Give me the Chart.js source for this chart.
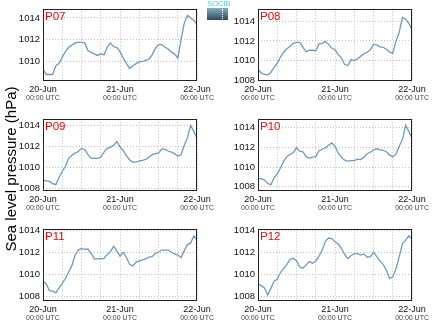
<!DOCTYPE html>
<html><head><meta charset="utf-8">
<script src="https://cdn.jsdelivr.net/npm/chart.js@4"></script>
<style>
html,body{margin:0;padding:0;background:#fff;width:435px;height:327px;overflow:hidden;position:relative;font-family:"Liberation Sans",Arial,sans-serif}
canvas{position:absolute}
#ytitle{position:absolute;left:-74px;top:161px;width:170px;height:16px;transform:rotate(-90deg);transform-origin:85px 8px;white-space:nowrap;font-size:15px;line-height:16px;text-align:center;color:#000;font-weight:normal;z-index:5}
#logo{position:absolute;left:207px;top:0;width:21px;z-index:5}
#logo .t{font-size:8px;line-height:8px;color:#5cc8e0;letter-spacing:-0.3px;text-align:center}
#logo .b{height:12px;background:linear-gradient(#7fb0c0,#2f4a5c);position:relative}
#logo .b:after{content:"";position:absolute;left:15px;top:1px;height:10px;border-left:1px dotted #fff}
</style></head>
<body>
<div id="ytitle">Sea level pressure (hPa)</div>
<div id="logo"><div class="t">SOCIB</div><div class="b"></div></div>
<script>
// ---- data ----
const hours = [0,1,2,3,4,5,6,7,8,9,10,11,12,13,14,15,16,17,18,19,20,21,22,23,24,25,26,27,28,29,30,31,32,33,34,35,36,37,38,39,40,41,42,43,44,45,46,47,48];
const dayLabels = ['20-Jun','21-Jun','22-Jun'];
const timeLabel = '00:00 UTC';
const panelNames = ['P07','P08','P09','P10','P11','P12'];
const yTicks = [1008,1010,1012,1014];
const yMin = [1008.2, 1007.93, 1007.74, 1007.57, 1007.55, 1007.55];
const yMax = [1014.85, 1015.27, 1014.63, 1014.9, 1014.15, 1014.15];

const p07 = [1009.3,1008.8,1008.8,1008.8,1009.6,1009.8,1010.4,1010.9,1011.3,1011.5,1011.7,1011.75,1011.75,1011.7,1011.0,1010.8,1010.7,1010.55,1010.7,1010.6,1011.3,1011.7,1011.35,1011.3,1010.9,1010.3,1009.8,1009.35,1009.6,1009.8,1009.95,1010.0,1010.1,1010.2,1010.6,1011.2,1011.55,1011.55,1011.3,1011.15,1010.85,1010.7,1010.3,1012.0,1013.5,1014.25,1014.0,1013.8,1013.4];
const p08 = [1009.1,1008.75,1008.6,1008.55,1008.8,1009.3,1009.75,1010.35,1010.85,1011.2,1011.45,1011.75,1011.85,1011.85,1011.35,1010.9,1011.05,1011.05,1011.0,1011.7,1011.75,1011.95,1011.65,1011.25,1011.1,1010.6,1010.25,1009.6,1009.5,1010.1,1010.0,1010.2,1010.45,1010.7,1010.85,1011.1,1011.65,1011.6,1011.4,1011.35,1011.15,1010.85,1010.75,1012.0,1012.9,1014.4,1014.2,1013.75,1013.2];
const p09 = [1008.75,1008.7,1008.65,1008.45,1008.35,1009.05,1009.6,1010.1,1010.85,1011.15,1011.35,1011.5,1011.8,1011.7,1011.2,1010.85,1010.85,1010.85,1010.95,1011.45,1011.8,1011.9,1012.1,1012.45,1011.95,1011.6,1011.1,1010.7,1010.5,1010.5,1010.6,1010.65,1010.75,1010.95,1011.2,1011.3,1011.35,1011.75,1011.7,1011.55,1011.45,1011.3,1011.05,1011.2,1012.1,1012.8,1014.0,1013.4,1012.75];
const p10 = [1008.85,1008.8,1008.7,1008.35,1008.2,1008.9,1009.3,1009.9,1010.6,1011.05,1011.3,1011.45,1011.95,1011.6,1011.55,1011.05,1010.9,1011.0,1011.05,1011.65,1011.8,1011.95,1012.2,1012.45,1012.1,1011.4,1011.0,1010.7,1010.6,1010.65,1010.65,1010.8,1010.75,1011.0,1011.35,1011.5,1011.75,1011.85,1011.75,1011.7,1011.55,1011.2,1011.05,1011.3,1012.1,1012.8,1014.25,1013.6,1012.9];
const p11 = [1009.35,1009.1,1008.5,1008.45,1008.3,1008.75,1009.15,1009.6,1010.2,1010.8,1011.75,1012.2,1012.35,1012.25,1012.3,1011.9,1011.4,1011.4,1011.4,1011.45,1011.8,1012.05,1012.55,1012.1,1011.65,1012.0,1011.5,1010.9,1010.75,1011.1,1011.2,1011.3,1011.4,1011.55,1011.6,1011.9,1012.0,1012.2,1012.2,1012.2,1012.0,1011.85,1011.75,1011.5,1012.15,1012.7,1012.85,1013.5,1013.1];
const p12 = [1009.1,1008.95,1008.75,1008.1,1008.7,1009.35,1009.55,1010.15,1010.5,1010.9,1011.35,1011.45,1011.2,1010.65,1010.55,1010.85,1011.15,1011.0,1011.2,1011.65,1012.2,1013.0,1013.3,1013.25,1012.95,1012.75,1012.35,1011.8,1011.4,1011.7,1011.85,1011.9,1011.75,1011.85,1011.55,1011.6,1012.0,1011.6,1011.2,1010.9,1010.35,1009.6,1009.75,1010.5,1011.6,1012.8,1013.1,1013.5,1013.2];
const series = [p07,p08,p09,p10,p11,p12];

// ---- layout ----
const colLeft = [0, 215];
const rowTop = [0, 110, 220];
const CW = 215, CH = 107;

const framePlugin = {
  id: 'frame',
  afterDraw(chart, args, opts) {
    const a = chart.chartArea, ctx = chart.ctx;
    ctx.save();
    ctx.strokeStyle = '#222';
    ctx.lineWidth = 1;
    ctx.strokeRect(Math.round(a.left) + 0.5, Math.round(a.top) + 0.5, Math.round(a.right - a.left) - 1, Math.round(a.bottom - a.top) - 1);
    ctx.fillStyle = '#ff0000';
    ctx.font = '11.5px "Liberation Sans", Arial, sans-serif';
    ctx.textBaseline = 'alphabetic';
    ctx.textAlign = 'left';
    ctx.fillText(opts.name, a.left + 2, a.top + 11);
    ctx.restore();
  }
};

function dayLabel(v) {
  if (v % 24 !== 0) return '';
  return dayLabels[v / 24];
}

series.forEach((vals, i) => {
  const cv = document.createElement('canvas');
  cv.width = CW; cv.height = CH;
  cv.style.left = colLeft[i % 2] + 'px';
  cv.style.top = rowTop[Math.floor(i / 2)] + 'px';
  cv.style.width = CW + 'px'; cv.style.height = CH + 'px';
  document.body.appendChild(cv);
  new Chart(cv, {
    type: 'line',
    data: {
      datasets: [{
        data: hours.map((h, k) => ({x: h, y: vals[k]})),
        borderColor: '#6e99c4',
        borderWidth: 1.3,
        pointRadius: 0,
        tension: 0,
        fill: false,
        xAxisID: 'x', yAxisID: 'y'
      }]
    },
    options: {
      responsive: false,
      animation: false,
      devicePixelRatio: 1,
      layout: {padding: {top: 8, right: 15, left: 0, bottom: 0}},
      plugins: {legend: {display: false}, tooltip: {enabled: false}, frame: {name: panelNames[i]}},
      scales: {
        x: {
          type: 'linear', position: 'bottom', weight: 0,
          min: 0, max: 48,
          afterFit(s) { s.height = 12; },
          grid: {color: '#bdbdbd', lineWidth: 1, drawTicks: false},
          border: {display: false, dash: [1, 2]},
          ticks: {stepSize: 6, autoSkip: false, maxRotation: 0, padding: 3, color: '#111',
                  font: {size: 9, family: '"Liberation Sans", Arial, sans-serif'},
                  callback: dayLabel}
        },
        x2: {
          type: 'linear', position: 'bottom', weight: 1,
          min: 0, max: 48,
          afterFit(s) { s.height = 14; },
          grid: {display: false, drawTicks: false},
          border: {display: false},
          ticks: {stepSize: 24, autoSkip: false, maxRotation: 0, padding: 1, color: '#444',
                  font: {size: 7, family: '"Liberation Sans", Arial, sans-serif'},
                  callback: () => timeLabel}
        },
        y: {
          type: 'linear', position: 'left',
          min: yMin[i], max: yMax[i],
          afterFit(s) { s.width = 43; },
          afterBuildTicks(s) { s.ticks = yTicks.filter(v => v >= s.min && v <= s.max).map(v => ({value: v})); },
          grid: {color: '#bdbdbd', lineWidth: 1, drawTicks: false},
          border: {display: false, dash: [1, 2]},
          ticks: {padding: 3, color: '#111', font: {size: 9.5, family: '"Liberation Sans", Arial, sans-serif'},
                  callback: v => String(v)}
        }
      }
    },
    plugins: [framePlugin]
  });
});
</script>
</body></html>
